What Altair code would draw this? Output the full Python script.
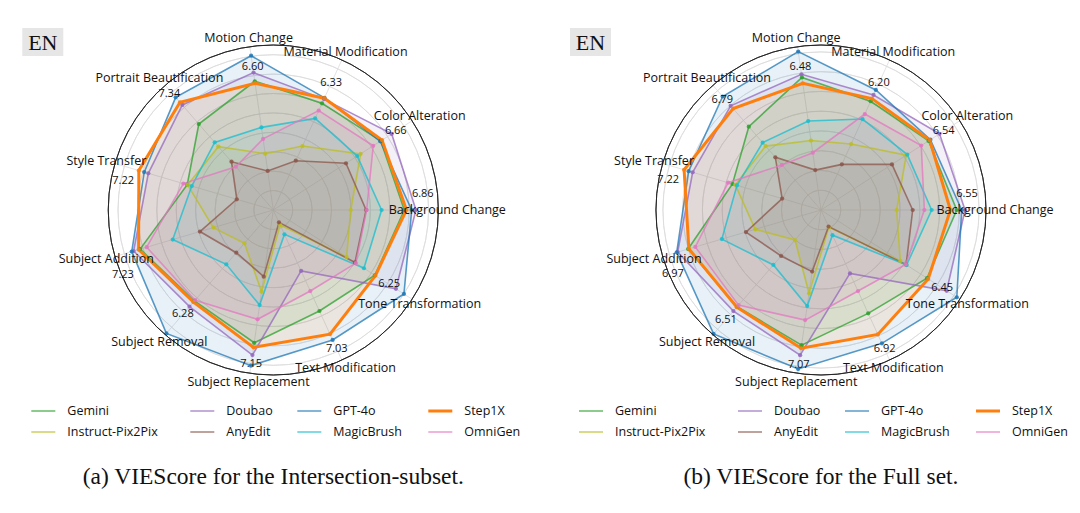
import math
import altair as alt
import pandas as pd

# ---------------- data ----------------
CATEGORIES = [
    "Background Change", "Color Alteration", "Material Modification", "Motion Change",
    "Portrait Beautification", "Style Transfer", "Subject Addition", "Subject Removal",
    "Subject Replacement", "Text Modification", "Tone Transformation",
]
MODELS = ["Gemini", "Instruct-Pix2Pix", "Doubao", "AnyEdit", "GPT-4o", "MagicBrush", "Step1X", "OmniGen"]
LEGEND_ORDER = ["Gemini", "Doubao", "GPT-4o", "Step1X", "Instruct-Pix2Pix", "AnyEdit", "MagicBrush", "OmniGen"]
MODEL_COLORS = ["#2ca02c", "#bcbd22", "#9467bd", "#8c564b", "#1f77b4", "#17becf", "#ff7f0e", "#e377c2"]

# (a) Intersection subset
INT_GEMINI = [6.75, 6.58, 6.04, 6.70, 5.86, 4.62, 7.15, 6.20, 6.91, 5.72, 6.22]
INT_PIX2PIX = [3.99, 5.35, 3.62, 2.93, 4.32, 4.60, 3.22, 2.27, 4.25, 0.85, 4.49]
INT_DOUBAO = [7.35, 7.25, 6.28, 7.15, 7.16, 6.71, 7.50, 6.59, 7.55, 3.45, 7.51]
INT_ANYEDIT = [4.78, 4.45, 2.79, 2.03, 3.29, 1.96, 3.94, 2.91, 3.47, 0.70, 5.00]
INT_GPT4O = [7.13, 6.55, 6.35, 8.03, 7.68, 6.93, 7.60, 8.41, 8.10, 7.36, 8.00]
INT_MAGICBRUSH = [5.58, 5.14, 5.19, 4.30, 4.61, 4.38, 5.40, 3.70, 4.95, 1.38, 5.55]
INT_STEP1X = [6.86, 6.66, 6.33, 6.60, 7.34, 7.22, 7.23, 6.28, 7.15, 7.03, 6.25]
INT_OMNIGEN = [4.81, 6.12, 5.63, 3.70, 2.95, 4.83, 6.80, 6.15, 5.69, 4.59, 5.06]

# (b) Full set
FULL_GEMINI = [6.87, 6.47, 6.05, 6.78, 5.58, 4.67, 7.01, 6.48, 6.91, 5.75, 6.38]
FULL_PIX2PIX = [3.83, 5.13, 3.67, 3.55, 4.28, 4.52, 3.47, 2.01, 4.26, 0.96, 4.77]
FULL_DOUBAO = [7.29, 7.13, 6.40, 6.94, 6.98, 6.77, 7.56, 6.77, 7.42, 3.53, 7.56]
FULL_ANYEDIT = [4.64, 4.27, 2.54, 2.04, 3.53, 2.05, 3.96, 3.08, 3.15, 0.92, 5.12]
FULL_GPT4O = [7.12, 6.58, 6.68, 8.10, 7.60, 6.98, 7.61, 8.30, 8.13, 7.42, 8.17]
FULL_MAGICBRUSH = [5.60, 5.19, 5.06, 4.55, 4.51, 4.43, 5.23, 3.68, 4.91, 1.40, 5.15]
FULL_STEP1X = [6.55, 6.54, 6.20, 6.48, 6.79, 7.22, 6.97, 6.51, 7.07, 6.92, 6.45]
FULL_OMNIGEN = [5.23, 6.03, 5.34, 2.93, 3.02, 4.90, 6.63, 6.37, 5.63, 4.51, 5.10]

GRID_LEVELS = [1, 2, 3, 4, 5, 6, 7, 8]

# ---------------- layout ----------------
W, H = 532, 495
R = 165
N = len(CATEGORIES)
LABEL_FONT = "Open Sans"
# screen-space nudges for the Step1X value labels near the horizontal axes
VALUE_LABEL_DY = {"Background Change": -16, "Style Transfer": 15, "Subject Addition": 21,
                  "Portrait Beautification": 4}
LEGEND_COL_OFFSETS = [-242, -83, 24, 155]

xs = alt.Scale(domain=[0, W], nice=False, zero=False)
ys = alt.Scale(domain=[0, H], nice=False, zero=False, reverse=True)
cscale = alt.Scale(domain=MODELS, range=MODEL_COLORS)


def X(f):
    return alt.X(f"{f}:Q", scale=xs, axis=None)


def Y(f):
    return alt.Y(f"{f}:Q", scale=ys, axis=None)


def panel(series, rmax, cx, cy, caption):
    pxu = R / rmax
    rows = []
    for m in MODELS:
        for i, (c, v) in enumerate(zip(CATEGORIES, series[m])):
            rows.append({"model": m, "category": c, "idx": i, "value": v})
    df = pd.DataFrame(rows)
    ang = f"datum.idx * 2 * PI / {N}"

    base = alt.Chart(df).transform_calculate(
        px=f"{cx} + datum.value * {pxu} * cos({ang})",
        py=f"{cy} - datum.value * {pxu} * sin({ang})",
    )

    rscale = alt.Scale(type="linear", domain=[0, rmax], range=[0, R], zero=True, nice=False)
    rings = alt.Chart(pd.DataFrame({"r": GRID_LEVELS})).transform_calculate(
        cx=f"{cx}", cy=f"{cy}"
    ).mark_arc(theta=0, theta2=2 * math.pi, fillOpacity=0, stroke="#dcdcdc", strokeWidth=0.8).encode(
        x=X("cx"), y=Y("cy"),
        radius=alt.Radius("r:Q", scale=rscale),
        radius2=alt.Radius2("r:Q"),
    )
    outer = alt.Chart(pd.DataFrame({"r": [rmax]})).transform_calculate(
        cx=f"{cx}", cy=f"{cy}"
    ).mark_arc(theta=0, theta2=2 * math.pi, fillOpacity=0, stroke="#222222", strokeWidth=0.9).encode(
        x=X("cx"), y=Y("cy"),
        radius=alt.Radius("r:Q", scale=rscale),
        radius2=alt.Radius2("r:Q"),
    )

    cat_df = pd.DataFrame({"category": CATEGORIES, "idx": list(range(N))})
    spokes = alt.Chart(cat_df).transform_calculate(
        cx=f"{cx}", cy=f"{cy}",
        ex=f"{cx} + {R} * cos({ang})",
        ey=f"{cy} - {R} * sin({ang})",
    ).mark_rule(color="#dcdcdc", strokeWidth=0.8).encode(
        x=X("cx"), y=Y("cy"), x2=alt.X2("ex:Q"), y2=alt.Y2("ey:Q")
    )

    cat_labels = alt.Chart(cat_df).transform_calculate(
        lx=f"{cx} + {R + 9} * cos({ang})",
        ly=f"{cy} - {R + 9} * sin({ang})",
    ).mark_text(font=LABEL_FONT, fontSize=12.5, color="#111111", align="center", baseline="middle").encode(
        x=X("lx"), y=Y("ly"), text="category:N"
    )

    fills = base.mark_line(interpolate="linear-closed", strokeOpacity=0, fillOpacity=0.1).encode(
        x=X("px"), y=Y("py"), order="idx:Q",
        fill=alt.Fill("model:N", scale=cscale, legend=None),
        detail="model:N",
    )
    lines = base.transform_filter(alt.datum.model != "Step1X").mark_line(
        interpolate="linear-closed", strokeWidth=1.6, opacity=0.75
    ).encode(
        x=X("px"), y=Y("py"), order="idx:Q",
        color=alt.Color("model:N", scale=cscale, legend=None),
    )
    step_line = base.transform_filter(alt.datum.model == "Step1X").mark_line(
        interpolate="linear-closed", strokeWidth=3
    ).encode(
        x=X("px"), y=Y("py"), order="idx:Q",
        color=alt.Color("model:N", scale=cscale, legend=None),
    )
    points = base.mark_circle(size=18, opacity=0.85).encode(
        x=X("px"), y=Y("py"),
        color=alt.Color("model:N", scale=cscale, legend=None),
    )

    dy_expr = " : ".join(
        [f"datum.category == '{k}' ? {v}" for k, v in VALUE_LABEL_DY.items()]
    ) + " : 0"
    value_labels = base.transform_filter(alt.datum.model == "Step1X").transform_calculate(
        vx=f"{cx} + (datum.value + 0.84) * {pxu} * cos({ang})",
        vy=f"{cy} - (datum.value + 0.84) * {pxu} * sin({ang}) + ({dy_expr})",
        vt="format(datum.value, '.2f')",
    ).mark_text(font=LABEL_FONT, fontSize=11, color="#111111", align="center", baseline="middle").encode(
        x=X("vx"), y=Y("vy"), text="vt:N"
    )

    # legend (two rows of four)
    leg_df = pd.DataFrame({"model": LEGEND_ORDER, "k": list(range(len(LEGEND_ORDER)))})
    leg = alt.Chart(leg_df).transform_calculate(
        col="datum.k % 4",
        row="floor(datum.k / 4)",
    ).transform_calculate(
        lx1=f"{cx} + {LEGEND_COL_OFFSETS}[datum.col]",
        ly="403 + datum.row * 21",
    ).transform_calculate(
        lx2="datum.lx1 + 24",
        tx="datum.lx1 + 36",
    )
    leg_lines = leg.mark_rule().encode(
        x=X("lx1"), x2=alt.X2("lx2:Q"), y=Y("ly"),
        color=alt.Color("model:N", scale=cscale, legend=None),
        strokeWidth=alt.condition(alt.datum.model == "Step1X", alt.value(3), alt.value(2)),
        opacity=alt.condition(alt.datum.model == "Step1X", alt.value(1), alt.value(0.55)),
    )
    leg_text = leg.mark_text(font=LABEL_FONT, fontSize=12.5, align="left", baseline="middle", color="#111111").encode(
        x=X("tx"), y=Y("ly"), text="model:N"
    )

    # "EN" tag
    tag_df = pd.DataFrame({"t": ["EN"]})
    tag = alt.Chart(tag_df).transform_calculate(
        x1=f"{cx - 251}", x2=f"{cx - 210}", y1="20", y2="48",
        tx=f"{cx - 230.5}", ty="35",
    )
    tag_rect = tag.mark_rect(color="#e6e6e6").encode(x=X("x1"), x2="x2:Q", y=Y("y1"), y2="y2:Q")
    tag_text = tag.mark_text(font="Liberation Serif", fontSize=22, color="#111111", align="center", baseline="middle").encode(
        x=X("tx"), y=Y("ty"), text="t:N"
    )

    cap = alt.Chart(pd.DataFrame({"t": [caption]})).transform_calculate(
        tx=f"{cx}", ty="469"
    ).mark_text(font="Liberation Serif", fontSize=23.5, color="#111111", align="center", baseline="middle").encode(
        x=X("tx"), y=Y("ty"), text="t:N"
    )

    return alt.layer(
        tag_rect, tag_text, rings, spokes, fills, lines, step_line, points, outer,
        cat_labels, value_labels, leg_lines, leg_text, cap,
    ).properties(width=W, height=H)


int_series = {
    "Gemini": INT_GEMINI, "Instruct-Pix2Pix": INT_PIX2PIX, "Doubao": INT_DOUBAO, "AnyEdit": INT_ANYEDIT,
    "GPT-4o": INT_GPT4O, "MagicBrush": INT_MAGICBRUSH, "Step1X": INT_STEP1X, "OmniGen": INT_OMNIGEN,
}
full_series = {
    "Gemini": FULL_GEMINI, "Instruct-Pix2Pix": FULL_PIX2PIX, "Doubao": FULL_DOUBAO, "AnyEdit": FULL_ANYEDIT,
    "GPT-4o": FULL_GPT4O, "MagicBrush": FULL_MAGICBRUSH, "Step1X": FULL_STEP1X, "OmniGen": FULL_OMNIGEN,
}

left = panel(int_series, 8.5, 265.3, 202, "(a) VIEScore for the Intersection-subset.")
right = panel(full_series, 8.35, 281, 202, "(b) VIEScore for the Full set.")

chart = alt.hconcat(left, right, spacing=0, bounds="flush").properties(padding=0).configure_view(
    strokeWidth=0
).resolve_scale(color="shared", fill="shared")

chart.save("out.html", embed_options={"renderer": "svg", "actions": False})
